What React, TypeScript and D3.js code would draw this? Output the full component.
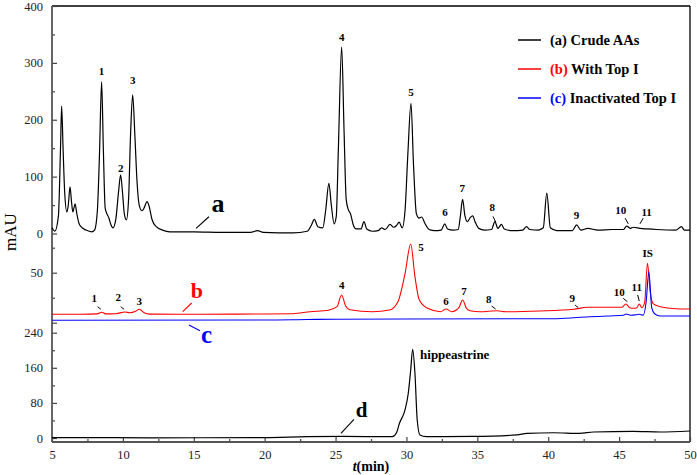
import React, { useRef, useEffect } from 'react';
import * as d3 from 'd3';

type Pt = [number, number];

// (a) crude AAs, top panel, [time min, mAU]
const crudeAAs: Pt[] = [
  [5.0, 10], [5.2, 4], [5.45, 30], [5.6, 150], [5.68, 224], [5.78, 150], [5.9, 70], [6.05, 38],
  [6.15, 50], [6.27, 82], [6.38, 55], [6.47, 38], [6.55, 45], [6.63, 52], [6.75, 35], [6.9, 18],
  [7.05, 12], [7.4, 6], [7.8, 3], [8.0, 6], [8.2, 40], [8.35, 140], [8.5, 267], [8.62, 150],
  [8.75, 45], [8.85, 36], [9.0, 28], [9.15, 16], [9.3, 10], [9.5, 25], [9.7, 75], [9.84, 103],
  [9.98, 70], [10.1, 35], [10.25, 24], [10.4, 60], [10.55, 180], [10.69, 244], [10.85, 170],
  [11.0, 90], [11.15, 50], [11.35, 40], [11.5, 45], [11.7, 56], [11.85, 48], [12.05, 25],
  [12.35, 12], [12.8, 6], [13.3, 3], [15, 3], [17, 2], [19.0, 2], [19.5, 5], [19.9, 2], [22, 1],
  [23.0, 4], [23.3, 15], [23.5, 25], [23.75, 12], [24.1, 10], [24.3, 40], [24.53, 88], [24.7, 50],
  [24.9, 17], [25.05, 30], [25.2, 150], [25.43, 328], [25.6, 180], [25.75, 60], [25.9, 42],
  [26.05, 35], [26.25, 15], [26.45, 8], [26.8, 8], [27.0, 21], [27.2, 8], [27.6, 4], [28.0, 5],
  [28.25, 10], [28.5, 7], [28.84, 16], [29.1, 11], [29.3, 14], [29.48, 20], [29.7, 10], [29.9, 40],
  [30.1, 140], [30.32, 229], [30.5, 120], [30.7, 35], [30.9, 27], [31.07, 29], [31.3, 18],
  [31.6, 7], [32.0, 5], [32.45, 6], [32.7, 17], [32.9, 8], [33.3, 6], [33.65, 7], [33.8, 30],
  [33.96, 60], [34.12, 32], [34.3, 21], [34.5, 28], [34.67, 31], [34.85, 20], [35.1, 9], [35.5, 6],
  [36.0, 7], [36.24, 21], [36.45, 9], [36.7, 16], [36.9, 8], [37.5, 5], [38.2, 6], [38.47, 12],
  [38.7, 7], [39.3, 6], [39.65, 10], [39.9, 71], [40.15, 10], [40.6, 5], [41.7, 5], [42.0, 15],
  [42.3, 6], [42.8, 9], [43.5, 6], [44.5, 7], [45.3, 7], [45.53, 13], [45.8, 9], [46.0, 11],
  [46.47, 9], [47.0, 8], [47.64, 7], [49.0, 6], [49.4, 12], [49.6, 6], [50.0, 6],
];

// (b) with Top I, middle panel
const withTop1: Pt[] = [
  [5, 8.4], [7, 8.5], [8.2, 8.8], [8.5, 10.4], [8.8, 8.8], [9.5, 9], [10.15, 10.7], [10.5, 10],
  [10.9, 11.5], [11.16, 13.4], [11.5, 10], [11.9, 8.6], [14, 8.4], [18, 8.6], [22, 9], [23.2, 11],
  [24.5, 12.5], [25.1, 16], [25.43, 27.7], [25.7, 17], [26.0, 13], [27.6, 11], [28.8, 12.7],
  [29.4, 21], [29.9, 49], [30.3, 78.7], [30.6, 46], [30.9, 23], [31.5, 14.4], [32.4, 11],
  [32.8, 13.7], [33.2, 11], [33.7, 15], [33.96, 22.7], [34.25, 14], [34.5, 12], [35.2, 11],
  [36.36, 12], [37, 11], [39.4, 11.7], [41.8, 13.4], [42.75, 15.4], [44.1, 15.4], [45.2, 15.5],
  [45.48, 18.7], [45.75, 15], [46.0, 14.4], [46.25, 15], [46.42, 18.7], [46.6, 15], [46.8, 20],
  [47.0, 59.4], [47.2, 30], [47.4, 19], [47.9, 16], [49, 14], [50, 13.7],
];

// (c) inactivated Top I, middle panel
const inactivated: Pt[] = [
  [5, 2.5], [20, 2.7], [23, 3.2], [25, 3.5], [40.6, 4], [42.9, 6], [45.3, 7.5], [45.5, 8.7],
  [45.8, 7.5], [46.2, 8], [46.4, 8.5], [46.7, 7.5], [46.9, 20], [47.1, 51], [47.3, 15], [47.5, 9],
  [47.9, 6.7], [50, 6.7],
];

// (d) hippeastrine standard, bottom panel
const hippeastrine: Pt[] = [
  [5, 1], [8, 1], [12, 0.5], [20, 1], [23, 3], [25.5, 3.5], [29.0, 3], [29.3, 12], [29.5, 33],
  [29.9, 64], [30.13, 102], [30.3, 155], [30.44, 202], [30.6, 147], [30.76, 41], [30.95, 7],
  [31.4, 3], [34.7, 3.5], [37.8, 7], [38.5, 10.6], [40.4, 12], [42.2, 10.6], [43.2, 13.7],
  [46, 15], [47.9, 13.7], [50, 16],
];

const xTicks = [5, 10, 15, 20, 25, 30, 35, 40, 45, 50];
const xMinor = [7.5, 12.5, 17.5, 22.5, 27.5, 32.5, 37.5, 42.5, 47.5];
const topTicks = [0, 100, 200, 300, 400];
const topMinor = [50, 150, 250, 350];
const midTicks = [0, 50];
const midLabelled = [50];
const midMinor = [25, 75];
const botTicks = [0, 80, 160, 240];
const botMinor = [40, 120, 200];

const legendItems = [
  { tag: '(a)', name: ' Crude AAs', color: '#000000' },
  { tag: '(b)', name: ' With Top I', color: '#ff0000' },
  { tag: '(c)', name: ' Inactivated Top I', color: '#0000ff' },
];

// peak numbers: text, time, value (text centre)
const peaksA = [
  { text: '1', t: 8.5, v: 286 }, { text: '2', t: 9.85, v: 115 }, { text: '3', t: 10.69, v: 270 },
  { text: '4', t: 25.43, v: 345 }, { text: '5', t: 30.32, v: 249 }, { text: '6', t: 32.72, v: 38 },
  { text: '7', t: 33.94, v: 80 }, { text: '8', t: 36.06, v: 46 }, { text: '9', t: 42.0, v: 32 },
  { text: '10', t: 45.11, v: 41 }, { text: '11', t: 46.94, v: 38 },
];
const leadersA: [number, number, number, number][] = [
  [36.1, 30, 36.3, 20], [45.42, 27, 45.65, 17], [46.7, 27, 46.47, 17],
];
const peaksB = [
  { text: '1', t: 7.98, v: 24.4 }, { text: '2', t: 9.68, v: 25.7 }, { text: '3', t: 11.16, v: 22 },
  { text: '4', t: 25.43, v: 37.7 }, { text: '5', t: 31.03, v: 75.4 }, { text: '6', t: 32.79, v: 22 },
  { text: '7', t: 34.06, v: 32 }, { text: '8', t: 35.8, v: 23.4 }, { text: '9', t: 41.7, v: 24.4 },
  { text: '10', t: 45.01, v: 31 }, { text: '11', t: 46.24, v: 35.4 }, { text: 'IS', t: 47.02, v: 69.4 },
];
const leadersB: [number, number, number, number][] = [
  [8.22, 16, 8.45, 13.4], [9.85, 16, 10.08, 13.4], [36.01, 16.7, 36.29, 13.7],
  [41.89, 17.7, 42.12, 15], [45.29, 24.4, 45.58, 21], [46.31, 27.7, 46.42, 21.7],
];

export default function App() {
  const svgRef = useRef<SVGSVGElement>(null);

  useEffect(() => {
    document.body.style.margin = '0';
    const svg = d3.select(svgRef.current);
    svg.selectAll('*').remove();

    const font = '"Liberation Serif", "Times New Roman", serif';
    const left = 52, right = 690, top = 6, bottom = 442;

    const x = d3.scaleLinear().domain([5, 50]).range([left, right]);
    const yTop = d3.scaleLinear().domain([0, 400]).range([233.5, top]);
    const yMid = d3.scaleLinear().domain([0, 50]).range([322.7, 272.7]);
    const yBot = d3.scaleLinear().domain([0, 240]).range([438, 332.7]);

    const line = (y: d3.ScaleLinear<number, number>) =>
      d3.line<Pt>().x(d => x(d[0])).y(d => y(d[1])).curve(d3.curveMonotoneX);

    // frame
    svg.append('line').attr('x1', left).attr('x2', right).attr('y1', top).attr('y2', top)
      .attr('stroke', '#000').attr('stroke-width', 1.3);
    svg.append('line').attr('x1', right).attr('x2', right).attr('y1', top).attr('y2', bottom)
      .attr('stroke', '#000').attr('stroke-width', 1.3);

    const styleAxis = (g: d3.Selection<SVGGElement, unknown, null, undefined>) => {
      g.select('.domain').remove();
      g.selectAll('line').attr('stroke', '#444').attr('stroke-width', 1.2);
      g.selectAll('text').attr('font-family', font).attr('font-size', 12.5).attr('fill', '#222');
    };

    const yAxis = (scale: d3.ScaleLinear<number, number>, major: number[], minor: number[], fmt: (d: number) => string) => {
      svg.append('g').attr('transform', `translate(${left},0)`)
        .call(d3.axisLeft(scale).tickValues(major).tickSize(-5).tickPadding(9).tickFormat(d => fmt(+d)))
        .call(styleAxis);
      svg.append('g').attr('transform', `translate(${left},0)`)
        .call(d3.axisLeft(scale).tickValues(minor).tickSize(-3).tickFormat(() => ''))
        .call(styleAxis);
    };
    yAxis(yTop, topTicks, topMinor, d => String(d));
    yAxis(yMid, midTicks, midMinor, d => (midLabelled.includes(d) ? String(d) : ''));
    yAxis(yBot, botTicks, botMinor, d => String(d));

    svg.append('g').attr('transform', `translate(0,${bottom})`)
      .call(d3.axisBottom(x).tickValues(xTicks).tickSize(-5).tickPadding(8).tickFormat(d => String(d)))
      .call(styleAxis);
    svg.append('g').attr('transform', `translate(0,${bottom})`)
      .call(d3.axisBottom(x).tickValues(xMinor).tickSize(-3).tickFormat(() => ''))
      .call(styleAxis);

    svg.append('line').attr('x1', left).attr('x2', left).attr('y1', top).attr('y2', bottom)
      .attr('stroke', '#555').attr('stroke-width', 1.8);
    svg.append('line').attr('x1', left).attr('x2', right).attr('y1', bottom).attr('y2', bottom)
      .attr('stroke', '#555').attr('stroke-width', 1.8);

    // traces
    svg.append('path').datum(crudeAAs).attr('d', line(yTop)).attr('fill', 'none')
      .attr('stroke', '#000').attr('stroke-width', 1.2);
    svg.append('path').datum(withTop1).attr('d', line(yMid)).attr('fill', 'none')
      .attr('stroke', '#ff0000').attr('stroke-width', 1.1);
    svg.append('path').datum(inactivated).attr('d', line(yMid)).attr('fill', 'none')
      .attr('stroke', '#0000ff').attr('stroke-width', 1.1);
    svg.append('path').datum(hippeastrine).attr('d', line(yBot)).attr('fill', 'none')
      .attr('stroke', '#000').attr('stroke-width', 1.2);

    // peak numbers
    const numbers = (items: { text: string; t: number; v: number }[], y: d3.ScaleLinear<number, number>) => {
      svg.append('g').selectAll('text').data(items).join('text')
        .attr('x', d => x(d.t)).attr('y', d => y(d.v)).attr('dy', '0.35em')
        .attr('text-anchor', 'middle').attr('font-family', font).attr('font-weight', 'bold')
        .attr('font-size', 11).attr('fill', '#000').text(d => d.text);
    };
    const leaders = (items: [number, number, number, number][], y: d3.ScaleLinear<number, number>, color: string) => {
      svg.append('g').selectAll('line').data(items).join('line')
        .attr('x1', d => x(d[0])).attr('y1', d => y(d[1]))
        .attr('x2', d => x(d[2])).attr('y2', d => y(d[3]))
        .attr('stroke', color).attr('stroke-width', 1);
    };
    numbers(peaksA, yTop);
    leaders(leadersA, yTop, '#000');
    numbers(peaksB, yMid);
    leaders(leadersB, yMid, '#000');

    // trace letters
    const letter = (text: string, t: number, v: number, y: d3.ScaleLinear<number, number>, size: number, color: string,
      lead: [number, number, number, number]) => {
      svg.append('text').attr('x', x(t)).attr('y', y(v)).attr('text-anchor', 'middle')
        .attr('font-family', font).attr('font-weight', 'bold').attr('font-size', size)
        .attr('fill', color).text(text);
      svg.append('line').attr('x1', x(lead[0])).attr('y1', y(lead[1]))
        .attr('x2', x(lead[2])).attr('y2', y(lead[3])).attr('stroke', color).attr('stroke-width', 1.1);
    };
    letter('a', 16.71, 38.3, yTop, 26, '#000', [16.07, 29.5, 15.16, 9.1]);
    letter('b', 15.21, 24.4, yMid, 22, '#ff0000', [14.85, 19.7, 14.22, 11]);
    letter('c', 15.91, -20.6, yMid, 25, '#0000ff', [15.44, -8, 14.66, -2.3]);
    letter('d', 26.84, 47.2, yBot, 21, '#000', [26.3, 42.6, 25.38, 10.6]);

    svg.append('text').attr('x', x(30.96)).attr('y', yBot(180)).attr('font-family', font)
      .attr('font-weight', 'bold').attr('font-size', 13).attr('fill', '#000').text('hippeastrine');

    // legend
    const lg = svg.append('g').attr('transform', 'translate(518,40)');
    legendItems.forEach((item, i) => {
      const row = lg.append('g').attr('transform', `translate(0,${i * 29})`);
      row.append('line').attr('x1', 0).attr('x2', 23).attr('y1', 0).attr('y2', 0)
        .attr('stroke', item.color).attr('stroke-width', 1.5);
      const txt = row.append('text').attr('x', 32).attr('y', 5).attr('font-family', font)
        .attr('font-weight', 'bold').attr('font-size', 14.5);
      txt.append('tspan').attr('fill', item.color).text(item.tag);
      txt.append('tspan').attr('fill', '#000').text(item.name);
    });

    // axis titles
    const xt = svg.append('text').attr('x', (left + right) / 2).attr('y', 471)
      .attr('text-anchor', 'middle').attr('font-family', font).attr('font-weight', 'bold').attr('font-size', 14);
    xt.append('tspan').attr('font-style', 'italic').text('t');
    xt.append('tspan').text('(min)');

    svg.append('text').attr('transform', 'translate(16,232) rotate(-90)').attr('text-anchor', 'middle')
      .attr('font-family', font).attr('font-size', 17).attr('fill', '#000').text('mAU');
  }, []);

  return <svg ref={svgRef} width={697} height={475} style={{ display: 'block' }}></svg>;
}
